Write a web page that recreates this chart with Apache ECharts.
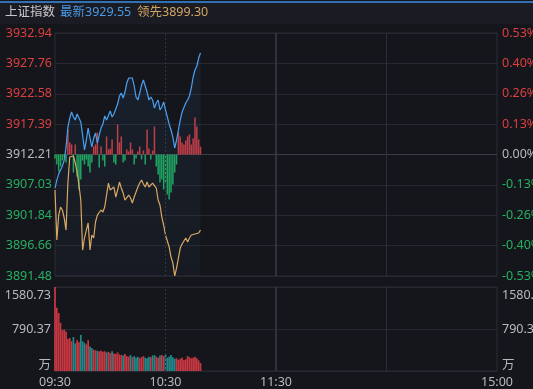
<!DOCTYPE html>
<html><head><meta charset="utf-8">
<script src="https://cdn.jsdelivr.net/npm/echarts@6/dist/echarts.min.js"></script>
<style>html,body{margin:0;padding:0;background:#15161c;}#c{width:533px;height:389px;}</style>
</head><body><div id="c"></div>
<script>
// ---------- data ----------
const title = '上证指数';
const prevClose = 3912.21;
const priceTicks = ['3891.48','3896.66','3901.84','3907.03','3912.21','3917.39','3922.58','3927.76','3932.94'];
const pctTicks = ['-0.53%','-0.40%','-0.26%','-0.13%','0.00%','0.13%','0.26%','0.40%','0.53%'];
const volTicks = ['万','790.37','1580.73'];
const xTickLabels = {0:'09:30',60:'10:30',120:'11:30',240:'15:00'};
const priceMin = 3891.48, priceMax = 3932.94, volMax = 1580.73;

const latest = [3906.49,3907.85,3908.90,3909.22,3910.24,3911.27,3913.50,3916.90,3918.43,3919.46,
3918.61,3918.09,3919.12,3919.46,3917.75,3915.53,3912.97,3914.68,3916.73,3915.02,
3913.49,3915.02,3915.88,3914.17,3915.53,3916.73,3917.41,3918.78,3918.09,3918.43,
3919.63,3918.61,3919.12,3919.46,3920.82,3922.19,3922.70,3921.85,3922.87,3924.41,
3925.26,3924.92,3925.26,3923.90,3922.02,3921.51,3922.70,3924.07,3924.92,3924.58,
3922.87,3921.51,3922.02,3921.51,3920.14,3920.99,3921.51,3919.80,3920.31,3921.17,
3919.80,3918.61,3917.40,3916.39,3915.19,3913.32,3914.68,3916.39,3918.09,3919.46,
3919.80,3920.99,3921.51,3922.19,3923.55,3925.43,3926.63,3927.31,3928.67,3929.55];

const leading = [3906.15,3897.62,3901.88,3903.25,3902.74,3901.37,3899.32,3907.34,3911.78,3912.12,
3911.95,3910.76,3909.22,3907.00,3904.44,3895.91,3897.96,3899.32,3900.52,3895.91,
3898.47,3897.96,3900.69,3901.88,3902.22,3902.74,3902.39,3903.25,3905.29,3907.34,
3906.15,3906.49,3906.66,3904.95,3906.15,3907.51,3906.49,3905.64,3904.44,3904.78,
3905.29,3904.78,3903.93,3904.95,3905.81,3906.66,3907.34,3907.85,3907.17,3906.66,
3907.51,3906.66,3907.00,3907.34,3907.00,3906.49,3904.44,3903.59,3901.54,3900.18,
3898.47,3898.13,3896.42,3894.71,3893.69,3891.50,3892.84,3894.54,3896.25,3896.93,
3896.59,3897.96,3897.27,3897.96,3898.47,3898.13,3898.64,3898.81,3898.81,3899.30];

const strength = [-4,-10,-17,-12,-6,-3,-8,25,12,10,
-18,10,-22,-35,-25,-6,-10,-5,-12,-18,
-8,8,10,22,-13,8,-6,-12,18,5,
6,15,-8,-10,30,12,18,-8,-6,5,
3,12,5,-10,-4,3,8,-5,4,-10,
25,6,-5,4,28,-12,-20,-28,-25,-35,
-28,-40,-45,-38,-30,-18,-10,22,18,12,
10,14,18,20,10,16,37,28,15,8];

const volume = [1580.73,1190,1090,905,770,780,740,600,620,560,
640,520,580,540,680,560,530,500,580,460,
430,400,390,380,370,380,360,370,350,360,
340,370,330,320,350,310,300,290,320,280,
270,300,260,280,250,270,240,260,280,250,
240,270,260,290,300,270,250,290,300,280,
310,250,270,300,260,230,240,210,230,250,
200,220,280,260,240,250,270,240,200,150];

// time categories 09:30-11:30, 13:01-15:00
const times = [];
for (let m = 9*60+30; m <= 11*60+30; m++) times.push(fmt(m));
for (let m = 13*60+1; m <= 15*60; m++) times.push(fmt(m));
function fmt(m){ const h = Math.floor(m/60), mm = m%60; return (h<10?'0':'')+h+':'+(mm<10?'0':'')+mm; }

// ---------- styles ----------
const RED = '#de3f3f', GREEN = '#25b061', GREY = '#b9b9bd';
const FONT = 'Noto Sans, Noto Sans CJK SC, sans-serif';
const gridLine = '#262730';

const volColors = volume.map((v,i) => (i===0 || latest[i] >= latest[i-1]) ? '#c93842' : '#1f8a8c');

const chart = echarts.init(document.getElementById('c'), null, {renderer:'canvas'});
chart.setOption({
  backgroundColor: '#15161c',
  animation: false,
  textStyle: {fontFamily: FONT},
  grid: [
    {left:55, top:33, width:442, height:243, show:true, borderColor:'#2a2b34', borderWidth:1, backgroundColor:'transparent', containLabel:false, outerBoundsMode:'none'},
    {left:55, top:287, width:442, height:84, show:true, borderColor:'#2a2b34', borderWidth:1, backgroundColor:'transparent', containLabel:false, outerBoundsMode:'none'}
  ],
  xAxis: [
    {type:'category', gridIndex:0, data:times, boundaryGap:false, axisLine:{show:false}, axisTick:{show:false}, axisLabel:{show:false}, splitLine:{show:false}},
    {type:'category', gridIndex:1, data:times, boundaryGap:false, axisLine:{show:false}, axisTick:{show:false}, splitLine:{show:false},
      axisLabel:{show:true, interval:(i)=> xTickLabels[i]!==undefined, formatter:(v,i)=> xTickLabels[i] || '', color:GREY, fontSize:12.5, fontFamily:FONT, margin:5, showMaxLabel:true, hideOverlap:false}}
  ],
  yAxis: [
    {type:'value', gridIndex:0, min:priceMin, max:priceMax, show:false, splitLine:{show:false}},
    {type:'value', gridIndex:0, min:0, max:8, interval:1, position:'left',
      axisLine:{show:false}, axisTick:{show:false},
      splitLine:{show:true, lineStyle:{color:[gridLine,gridLine,gridLine,gridLine,'#3b3c46',gridLine,gridLine,gridLine,gridLine], width:1}},
      axisLabel:{margin:3, fontSize:12.5, fontFamily:FONT, formatter:(v)=>priceTicks[v],
        color:(v)=> v>4 ? RED : (v<4 ? GREEN : GREY)}},
    {type:'value', gridIndex:0, min:0, max:8, interval:1, position:'right',
      axisLine:{show:false}, axisTick:{show:false}, splitLine:{show:false},
      axisLabel:{margin:5, fontSize:12.5, fontFamily:FONT, formatter:(v)=>pctTicks[v],
        color:(v)=> v>4 ? RED : (v<4 ? GREEN : GREY)}},
    {type:'value', gridIndex:0, min:-121.5, max:121.5, show:false, splitLine:{show:false}},
    {type:'value', gridIndex:1, min:0, max:volMax, show:false, splitLine:{show:false}},
    {type:'value', gridIndex:1, min:0, max:2, interval:1, position:'left',
      axisLine:{show:false}, axisTick:{show:false},
      splitLine:{show:true, lineStyle:{color:gridLine}},
      axisLabel:{margin:4, fontSize:12.5, fontFamily:FONT, color:GREY,
        formatter:(v)=> v===2 ? '{t|'+volTicks[2]+'}' : (v===0 ? '{b|'+volTicks[0]+'}' : volTicks[v]),
        rich:{t:{padding:[16,0,0,0], fontSize:12.5, color:GREY}, b:{padding:[0,0,12,0], fontSize:12.5, color:GREY}}}},
    {type:'value', gridIndex:1, min:0, max:2, interval:1, position:'right',
      axisLine:{show:false}, axisTick:{show:false}, splitLine:{show:false},
      axisLabel:{margin:5, fontSize:12.5, fontFamily:FONT, color:GREY,
        formatter:(v)=> v===2 ? '{t|'+volTicks[2]+'}' : (v===0 ? '{b|'+volTicks[0]+'}' : volTicks[v]),
        rich:{t:{padding:[16,0,0,0], fontSize:12.5, color:GREY}, b:{padding:[0,0,12,0], fontSize:12.5, color:GREY}}}}
  ],
  series: [
    {type:'bar', xAxisIndex:0, yAxisIndex:3, data:strength, barWidth:1.5, z:2,
      itemStyle:{color:(p)=> p.value>=0 ? '#c9383e' : '#1ea55b'},
      markLine:{silent:true, symbol:'none', label:{show:false},
        data:[
          {xAxis:'10:30', lineStyle:{color:'#33343d', type:[2,2], width:1}},
          {xAxis:'11:30', lineStyle:{color:'#3a3b45', type:'solid', width:1.5}},
          {xAxis:'14:00', lineStyle:{color:'#2c2d36', type:'solid', width:1}}
        ]}},
    {type:'line', xAxisIndex:0, yAxisIndex:0, data:leading, showSymbol:false, z:4,
      lineStyle:{color:'#dfa85e', width:1.2}},
    {type:'line', xAxisIndex:0, yAxisIndex:0, data:latest, showSymbol:false, z:5,
      lineStyle:{color:'#4aa0f0', width:1.2},
      areaStyle:{origin:'start', color:new echarts.graphic.LinearGradient(0,0,0,1,[{offset:0,color:'rgba(74,160,240,0.11)'},{offset:1,color:'rgba(74,160,240,0.04)'}])}},
    {type:'bar', xAxisIndex:1, yAxisIndex:4, data:volume, barWidth:1.7, z:2,
      itemStyle:{color:(p)=> volColors[p.dataIndex]},
      markLine:{silent:true, symbol:'none', label:{show:false},
        data:[
          {xAxis:'10:30', lineStyle:{color:'#33343d', type:[2,2], width:1}},
          {xAxis:'11:30', lineStyle:{color:'#3a3b45', type:'solid', width:1.5}},
          {xAxis:'14:00', lineStyle:{color:'#2c2d36', type:'solid', width:1}}
        ]}}
  ],
  graphic: [
    {type:'rect', shape:{x:0, y:3, width:533, height:21}, style:{fill:'#1b1c23'}, z:-1, silent:true},
    {type:'line', shape:{x1:0, y1:2, x2:533, y2:2}, style:{stroke:'#3b8fe6', lineWidth:1.5}, silent:true},
    {type:'text', left:5, top:6, style:{text:title, fill:'#c9c9cc', font:'12.5px '+FONT}},
    {type:'text', left:60, top:6, style:{text:'最新'+latest[latest.length-1].toFixed(2), fill:'#4a9ae6', font:'12.5px '+FONT}},
    {type:'text', left:137, top:6, style:{text:'领先'+leading[leading.length-1].toFixed(2), fill:'#d2a462', font:'12.5px '+FONT}}
  ]
});
</script>
</body></html>
